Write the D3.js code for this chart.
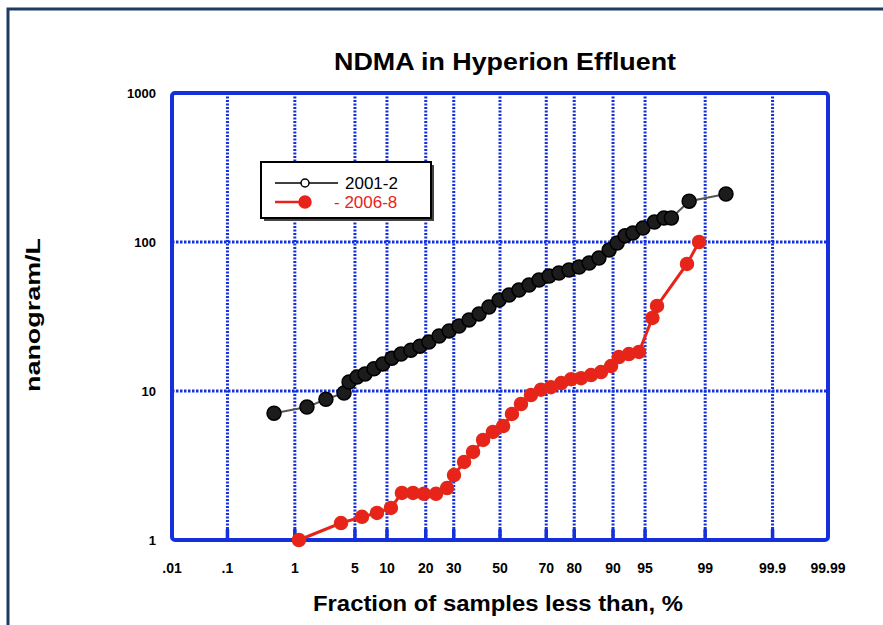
<!DOCTYPE html>
<html lang="en">

<head>
    <meta charset="UTF-8">
    <title>NDMA in Hyperion Effluent</title>
    <style>
        html,
        body {
            background-color: white;
            margin: 0;
        }

        svg {
            display: block;
        }

        text {
            font-family: "Liberation Sans", Arial, Helvetica, sans-serif;
        }
    </style>
</head>

<body>
    <main></main>
    <script src="https://cdnjs.cloudflare.com/ajax/libs/d3/7.8.5/d3.min.js"></script>
    <script>
        // - - - - - - - - - -
        // Data
        // - - - - - - - - - -
        const probTicks = [0.01, 0.1, 1, 5, 10, 20, 30, 50, 70, 80, 90, 95, 99, 99.9, 99.99];
        const probTickLabels = ['.01', '.1', '1', '5', '10', '20', '30', '50', '70', '80', '90', '95', '99', '99.9', '99.99'];
        const concTicks = [1, 10, 100, 1000];
        const seriesNames = ['2001-2', '- 2006-8'];

        // 2001-2: percent of samples less than, nanogram/L
        const pct2001 = [0.52, 1.43, 2.42, 3.85, 4.35, 5.25, 6.3, 7.65, 9.2, 11.0, 13.1, 15.6, 18.2, 21.0,
            24.5, 28.2, 32.1, 36.3, 40.6, 45.0, 49.6, 54.1, 58.5, 62.9, 67.1, 71.1, 74.8, 78.3, 81.5, 84.4,
            86.9, 89.2, 90.8, 92.2, 93.4, 94.75, 96.0, 96.85, 97.4, 98.4, 99.48];
        const conc2001 = [7.1, 7.8, 8.8, 9.7, 11.5, 12.4, 13.0, 14.1, 15.2, 16.6, 17.7, 18.8, 20.0, 21.3,
            23.4, 25.3, 27.3, 30.0, 32.9, 36.6, 40.8, 44.1, 47.6, 51.4, 55.6, 59.1, 61.9, 64.9, 68.0, 72.3,
            78.1, 88.4, 98.4, 110, 115, 124, 136, 145, 145, 188, 210];

        // 2006-8
        const pct2006 = [1.13, 3.57, 5.88, 8.15, 10.8, 13.3, 16.2, 19.4, 23.4, 27.4, 30.1, 34.2, 38.0, 42.4,
            46.8, 51.4, 55.4, 59.4, 63.7, 67.9, 71.8, 75.6, 79.0, 82.1, 84.9, 87.4, 89.6, 91.1, 92.8, 94.25,
            95.8, 96.25, 98.3, 98.8];
        const conc2006 = [1.0, 1.30, 1.43, 1.52, 1.64, 2.07, 2.07, 2.04, 2.04, 2.23, 2.73, 3.34, 3.90, 4.69,
            5.31, 5.82, 7.01, 8.18, 9.40, 10.2, 10.6, 11.3, 12.0, 12.2, 12.8, 13.4, 14.7, 16.9, 17.7, 18.3,
            30.9, 37.2, 71.2, 100];

        !(function () {
            'use strict';

            let svg,
                canvas = { width: 883, height: 625 },
                plot = { left: 172, right: 828, top: 93, bottom: 540 },
                blue = '#1430dc',
                red = '#e8231a',
                x, y;

            /** Inverse normal CDF (Acklam), turns a fraction into a z score */
            function probit(p) {
                const a = [-3.969683028665376e+01, 2.209460984245205e+02, -2.759285104469687e+02,
                    1.383577518672690e+02, -3.066479806614716e+01, 2.506628277459239e+00];
                const b = [-5.447609879822406e+01, 1.615858368580409e+02, -1.556989798598866e+02,
                    6.680131188771972e+01, -1.328068155288572e+01];
                const c = [-7.784894002430293e-03, -3.223964580411365e-01, -2.400758277161838e+00,
                    -2.549732539343734e+00, 4.374664141464968e+00, 2.938163982698783e+00];
                const d = [7.784695709041462e-03, 3.224671290700398e-01, 2.445134137142996e+00,
                    3.754408661907416e+00];
                const plow = 0.02425;
                let q, r;
                if (p < plow) {
                    q = Math.sqrt(-2 * Math.log(p));
                    return (((((c[0] * q + c[1]) * q + c[2]) * q + c[3]) * q + c[4]) * q + c[5]) /
                        ((((d[0] * q + d[1]) * q + d[2]) * q + d[3]) * q + 1);
                }
                if (p <= 1 - plow) {
                    q = p - 0.5;
                    r = q * q;
                    return (((((a[0] * r + a[1]) * r + a[2]) * r + a[3]) * r + a[4]) * r + a[5]) * q /
                        (((((b[0] * r + b[1]) * r + b[2]) * r + b[3]) * r + b[4]) * r + 1);
                }
                q = Math.sqrt(-2 * Math.log(1 - p));
                return -(((((c[0] * q + c[1]) * q + c[2]) * q + c[3]) * q + c[4]) * q + c[5]) /
                    ((((d[0] * q + d[1]) * q + d[2]) * q + d[3]) * q + 1);
            }

            function setSvg() {
                svg = d3.select('main')
                    .append('svg')
                    .attr('width', canvas.width)
                    .attr('height', canvas.height);

                // page frame (top + left edges visible)
                svg.append('path')
                    .attr('d', 'M8,625 V9 H883')
                    .attr('fill', 'none')
                    .attr('stroke', '#1d3b63')
                    .attr('stroke-width', 3);
            }

            function setScales() {
                const z = d3.scaleLinear()
                    .domain([probit(0.0001), probit(0.9999)])
                    .range([plot.left, plot.right]);
                x = function (pct) { return z(probit(pct / 100)); };

                y = d3.scaleLog()
                    .domain([1, 1000])
                    .range([plot.bottom, plot.top]);
            }

            function drawGrid() {
                const g = svg.append('g');

                // vertical dotted grid
                g.selectAll('.vgrid')
                    .data(probTicks.slice(1, -1))
                    .enter().append('line')
                    .attr('x1', d => x(d)).attr('x2', d => x(d))
                    .attr('y1', plot.top).attr('y2', plot.bottom)
                    .attr('stroke', blue)
                    .attr('stroke-width', 3)
                    .attr('stroke-dasharray', '2,1.5');

                // horizontal dotted grid
                g.selectAll('.hgrid')
                    .data(concTicks.slice(1, -1))
                    .enter().append('line')
                    .attr('x1', plot.left).attr('x2', plot.right)
                    .attr('y1', d => y(d)).attr('y2', d => y(d))
                    .attr('stroke', blue)
                    .attr('stroke-width', 3)
                    .attr('stroke-dasharray', '2.5,1.5');

                // bottom ticks
                g.selectAll('.tick')
                    .data(probTicks.slice(1, -1))
                    .enter().append('line')
                    .attr('x1', d => x(d)).attr('x2', d => x(d))
                    .attr('y1', plot.bottom).attr('y2', plot.bottom - 11)
                    .attr('stroke', blue)
                    .attr('stroke-width', 3.5);

                // frame
                g.append('rect')
                    .attr('x', plot.left).attr('y', plot.top)
                    .attr('width', plot.right - plot.left)
                    .attr('height', plot.bottom - plot.top)
                    .attr('rx', 3)
                    .attr('fill', 'none')
                    .attr('stroke', blue)
                    .attr('stroke-width', 4);
            }

            function drawLabels() {
                svg.append('text')
                    .attr('x', 505).attr('y', 70)
                    .attr('text-anchor', 'middle')
                    .attr('font-size', 24)
                    .attr('font-weight', 'bold')
                    .attr('textLength', 342)
                    .attr('lengthAdjust', 'spacingAndGlyphs')
                    .text('NDMA in Hyperion Effluent');

                svg.selectAll('.ylab')
                    .data(concTicks)
                    .enter().append('text')
                    .attr('x', 156)
                    .attr('y', d => y(d) + 5)
                    .attr('text-anchor', 'end')
                    .attr('font-size', 13)
                    .attr('font-weight', 'bold')
                    .text(d => d);

                svg.selectAll('.xlab')
                    .data(probTicks)
                    .enter().append('text')
                    .attr('x', d => x(d))
                    .attr('y', 573)
                    .attr('text-anchor', 'middle')
                    .attr('font-size', 14)
                    .attr('font-weight', 'bold')
                    .text((d, i) => probTickLabels[i]);

                svg.append('text')
                    .attr('x', 498).attr('y', 611)
                    .attr('text-anchor', 'middle')
                    .attr('font-size', 22)
                    .attr('font-weight', 'bold')
                    .attr('textLength', 370)
                    .attr('lengthAdjust', 'spacingAndGlyphs')
                    .text('Fraction of samples less than, %');

                svg.append('text')
                    .attr('transform', 'translate(40,315) rotate(-90)')
                    .attr('text-anchor', 'middle')
                    .attr('font-size', 21)
                    .attr('font-weight', 'bold')
                    .attr('textLength', 154)
                    .attr('lengthAdjust', 'spacingAndGlyphs')
                    .text('nanogram/L');
            }

            function drawSeries(pcts, vals, opt) {
                const pts = pcts.map((p, i) => [x(p), y(vals[i])]);
                const g = svg.append('g');

                g.append('path')
                    .attr('d', d3.line()(pts))
                    .attr('fill', 'none')
                    .attr('stroke', opt.line)
                    .attr('stroke-width', opt.lineWidth);

                g.selectAll('circle')
                    .data(pts)
                    .enter().append('circle')
                    .attr('cx', d => d[0])
                    .attr('cy', d => d[1])
                    .attr('r', opt.r)
                    .attr('fill', opt.fill)
                    .attr('stroke', opt.stroke)
                    .attr('stroke-width', 1.5);
            }

            function drawLegend() {
                const g = svg.append('g');

                g.append('rect')
                    .attr('x', 264).attr('y', 165)
                    .attr('width', 170).attr('height', 56)
                    .attr('fill', '#444');
                g.append('rect')
                    .attr('x', 261).attr('y', 162)
                    .attr('width', 170).attr('height', 56)
                    .attr('fill', 'white')
                    .attr('stroke', 'black')
                    .attr('stroke-width', 2);

                const rows = [
                    { y: 183, line: '#000', fill: 'white', stroke: '#000', r: 4, color: '#000', tx: 345, x2: 338 },
                    { y: 202, line: red, fill: red, stroke: red, r: 6, color: red, tx: 334, x2: 305 }
                ];

                rows.forEach((row, i) => {
                    g.append('line')
                        .attr('x1', 275).attr('x2', row.x2)
                        .attr('y1', row.y).attr('y2', row.y)
                        .attr('stroke', row.line)
                        .attr('stroke-width', i ? 2.5 : 1.5);
                    g.append('circle')
                        .attr('cx', 305).attr('cy', row.y)
                        .attr('r', row.r)
                        .attr('fill', row.fill)
                        .attr('stroke', row.stroke)
                        .attr('stroke-width', 1.5);
                    g.append('text')
                        .attr('x', row.tx).attr('y', row.y + 6)
                        .attr('font-size', 17)
                        .attr('fill', row.color)
                        .text(seriesNames[i]);
                });
            }

            function main() {
                setSvg();
                setScales();
                drawGrid();
                drawLabels();
                drawSeries(pct2001, conc2001, { line: '#555', lineWidth: 2, r: 7, fill: '#1c1c1c', stroke: '#000' });
                drawSeries(pct2006, conc2006, { line: red, lineWidth: 3, r: 6.5, fill: red, stroke: '#e02a1a' });
                drawLegend();
            }

            main();
        }());
    </script>
</body>

</html>
